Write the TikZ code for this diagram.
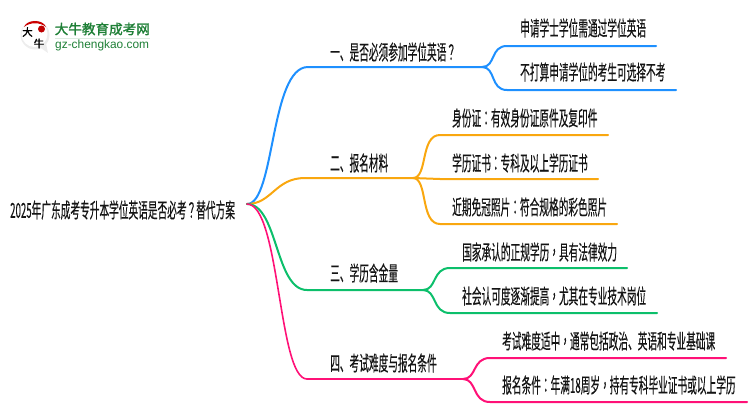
\documentclass[tikz,border=0pt]{standalone}
\usepackage{fontspec}
\setmainfont{Liberation Sans}
\newfontfamily\cjk[FakeStretch=0.47,FakeBold=0.25]{Noto Sans CJK SC}
\newfontfamily\cjkp[FakeStretch=0.47,FakeBold=0.25]{Noto Sans CJK TC}
\newfontfamily\logofont[FakeBold=1.5]{Noto Sans CJK SC}
\newcommand{\pct}[1]{{\cjkp #1}}
\definecolor{cblue}{HTML}{1E90FF}
\definecolor{corange}{HTML}{F9A70F}
\definecolor{cgreen}{HTML}{0CBF6B}
\definecolor{cpink}{HTML}{FF1177}
\definecolor{logogreen}{HTML}{1E7F36}
\usetikzlibrary{calc}
\tikzset{
  x=1pt,y=-1pt,
  lbl/.style={anchor=west,inner sep=0pt,font=\cjk\fontsize{20.6}{20.6}\selectfont,text=black!92},
  mainline/.style={line width=2pt,line cap=round},
}
\begin{document}
\begin{tikzpicture}
\useasboundingbox (0,0) rectangle (750,410);
% logo
\fill[white!93!black] (35,35) circle (14.5);
\fill[white] (34.5,34) circle (13);
\fill[white!93!black] (38,46) -- (48,53) -- (46,43) -- cycle;
\fill[red!80!black] (24,27) .. controls (27,19) and (43,19) .. (46,27) .. controls (40,22) and (30,22) .. (24,27) -- cycle;
\fill[red!75!black] (41.5,29) circle (3.5);
\node[inner sep=0pt,font=\logofont\fontsize{10.5}{10.5}\selectfont] (logoa) at (27.5,32) {大};
\node[inner sep=0pt,font=\logofont\fontsize{10.5}{10.5}\selectfont] (logob) at (39,43.5) {牛};
\node[anchor=west,inner sep=0pt,font=\logofont\fontsize{13.6}{14}\selectfont,text=logogreen] (logoc) at (54.5,29) {大牛教育成考网};
\fill[logogreen!15] (55,38) rectangle (150,39.2);
\node[anchor=west,inner sep=0pt,font=\fontsize{11.9}{12}\selectfont,text=logogreen] (logod) at (55,45) {gz-chengkao.com};
% texts
\node[lbl] (root) at (10,210) {2025年广东成考专升本学位英语是否必考\pct{？}替代方案};
\node[lbl] (a) at (330,52) {一、是否必须参加学位英语\pct{？}};
\node[lbl] (b) at (330,163) {二、报名材料};
\node[lbl] (c) at (330,273) {三、学历含金量};
\node[lbl] (d) at (330,363) {四、考试难度与报名条件};
\node[lbl] (a1) at (520,28) {申请学士学位需通过学位英语};
\node[lbl] (a2) at (520,72) {不打算申请学位的考生可选择不考};
\node[lbl] (b1) at (452,118) {身份证\pct{：}有效身份证原件及复印件};
\node[lbl] (b2) at (452,163) {学历证书\pct{：}专科及以上学历证书};
\node[lbl] (b3) at (452,207) {近期免冠照片\pct{：}符合规格的彩色照片};
\node[lbl] (c1) at (462,252) {国家承认的正规学历\pct{，}具有法律效力};
\node[lbl] (c2) at (462,296) {社会认可度逐渐提高\pct{，}尤其在专业技术岗位};
\node[lbl] (d1) at (502,341) {考试难度适中\pct{，}通常包括政治、英语和专业基础课};
\node[lbl] (d2) at (502,385) {报名条件\pct{：}年满18周岁\pct{，}持有专科毕业证书或以上学历};
% junction coordinates
\coordinate (o) at (247,204);
\coordinate (as) at (308,67); \coordinate (ae) at (482,67);
\coordinate (bs) at (305,178); \coordinate (be) at (413,178);
\coordinate (cs) at (307,290); \coordinate (ce) at (423,290);
\coordinate (ds) at (307,379); \coordinate (de) at (463,379);
\coordinate (a1s) at (507,46); \coordinate (a1e) at (656,46);
\coordinate (a2s) at (507,90); \coordinate (a2e) at (676,90);
\coordinate (b1s) at (440,135); \coordinate (b1e) at (608,135);
\coordinate (b2s) at (440,179); \coordinate (b2e) at (598,179);
\coordinate (b3s) at (440,224); \coordinate (b3e) at (617,224);
\coordinate (c1s) at (450,268); \coordinate (c1e) at (627,268);
\coordinate (c2s) at (450,313); \coordinate (c2e) at (657,313);
\coordinate (d1s) at (490,358); \coordinate (d1e) at (726,358);
\coordinate (d2s) at (490,402); \coordinate (d2e) at (747,402);
% connectors: root
\draw[mainline,cblue] (o) .. controls (275,204) and (270,67) .. (as) -- (ae);
\draw[mainline,corange] (o) .. controls (272,204) and (275,178) .. (bs) -- (be);
\draw[mainline,cgreen] (o) .. controls (278,204) and (275,290) .. (cs) -- (ce);
\draw[mainline,cpink,line width=1.6pt] (o) .. controls (280,204) and (278,379) .. (ds);
\draw[mainline,cpink] (ds) -- (de);
% leaves
\draw[mainline,cblue] (ae) .. controls (496,67) and (490,46) .. (a1s) -- (a1e);
\draw[mainline,cblue] (ae) .. controls (496,67) and (490,90) .. (a2s) -- (a2e);
\draw[mainline,corange] (be) .. controls (428,178) and (420,135) .. (b1s) -- (b1e);
\draw[mainline,corange] (be) -- (b2s) -- (b2e);
\draw[mainline,corange] (be) .. controls (428,178) and (420,224) .. (b3s) -- (b3e);
\draw[mainline,cgreen] (ce) .. controls (437,290) and (432,268) .. (c1s) -- (c1e);
\draw[mainline,cgreen] (ce) .. controls (437,290) and (432,313) .. (c2s) -- (c2e);
\draw[mainline,cpink] (de) .. controls (477,379) and (472,358) .. (d1s) -- (d1e);
\draw[mainline,cpink] (de) .. controls (477,379) and (472,402) .. (d2s) -- (d2e);
\end{tikzpicture}
\end{document}
